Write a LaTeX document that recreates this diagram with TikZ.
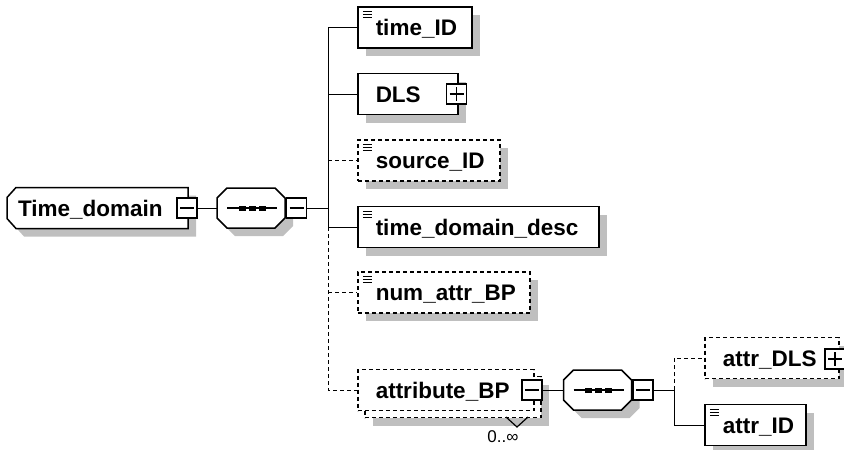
\documentclass[tikz,border=0pt]{standalone}
\usepackage{fontspec}
\setmainfont{Liberation Sans}
\usetikzlibrary{shadows}
\pgfdeclarelayer{bg}
\pgfsetlayers{bg,main}

\begin{document}
\begin{tikzpicture}[x=1pt, y=-1pt, line width=1.5pt,
	every node/.style={font=\bfseries\fontsize{22.5}{26}\selectfont},
	shd/.style={general shadow={fill=black!25, draw=none, shadow xshift=8pt, shadow yshift=-8pt}},
	box/.style={draw, fill=white, rectangle, minimum height=41pt, inner xsep=18pt, text height=16pt, text depth=0pt, align=left, anchor=west},
	elem/.style={box, shd},
	opt/.style={dash pattern=on 4pt off 3pt},
	outl/.style={draw, line width=1.5pt, fill=white, solid, shd},
	simple/.style={path picture={\foreach \k in {4.5,7.5,10.5} \draw[solid, line width=0.9pt] ([xshift=5pt,yshift=-\k pt]path picture bounding box.north west) -- ++(9pt,0pt);}},
	tog/.style={draw, fill=white, solid, rectangle, minimum size=20pt, inner sep=0pt, anchor=center},
	minus/.style={tog, path picture={\draw[solid, line width=1.2pt] ([xshift=3pt]path picture bounding box.west) -- ([xshift=-3pt]path picture bounding box.east);}},
	plus/.style={tog, path picture={\draw[solid, line width=1.2pt] ([xshift=3pt]path picture bounding box.west) -- ([xshift=-3pt]path picture bounding box.east);
		\draw[solid, line width=1.2pt] ([yshift=-3pt]path picture bounding box.north) -- ([yshift=3pt]path picture bounding box.south);}},
	seq/.style={rectangle, minimum width=68pt, minimum height=40pt, inner sep=0pt, outer sep=0pt,
		path picture={\draw[line width=1.6pt] ([xshift=-24pt]path picture bounding box.center) -- ++(50pt,0pt);
			\foreach \d in {-9,1,11} \fill[black] ([xshift=\d pt]path picture bounding box.center) ++(-3.5pt,-2.5pt) rectangle ++(7pt,5pt);}},
	glob/.style={rectangle, minimum width=181pt, minimum height=41pt, inner xsep=11pt, outer sep=0pt, text width=159pt, text height=16pt, text depth=0pt, align=left, anchor=west}]
	\useasboundingbox (0,0) rectangle (844,450);
	\node[glob] (tdom) at (7,208) {Time\_domain};
	\node[minus] (tdomMin) at (187,208) {};
	\node[seq] (seqA) at (251,208) {};
	\node[minus] (seqAMin) at (296.5,208) {};
	\coordinate (busA) at (328,208);
	\node[elem, simple, text width=78pt] (timeID) at (357,27.5) {time\_ID};
	\node[elem, text width=64pt] (dls) at (357,94) {DLS};
	\node[plus] (dlsPlus) at (456.5,94) {};
	\node[elem, opt, simple, text width=106pt] (sourceID) at (357,160.5) {source\_ID};
	\node[elem, simple, text width=205pt] (tdDesc) at (357,227) {time\_domain\_desc};
	\node[elem, opt, simple, text width=136pt] (numAttr) at (357,292.5) {num\_attr\_BP};
	\node[elem, opt, text width=140pt] (attrBPback) at (364,397) {};
	\node[box, opt, text width=140pt] (attrBP) at (357,390) {attribute\_BP};
	\node[minus] (attrBPMin) at (532,390) {};
	\node[font=\fontsize{17}{20}\selectfont] (attrBPOcc) at (503,437) {0..∞};
	\draw[line width=1.2pt] (506,417) -- (517,427) -- (528,417);
	\node[seq] (seqB) at (597.5,390) {};
	\node[minus] (seqBMin) at (643,390) {};
	\coordinate (busB) at (674,390);
	\node[elem, opt, text width=98pt] (attrDLS) at (704,358) {attr\_DLS};
	\node[plus] (attrDLSPlus) at (835,359) {};
	\node[elem, simple, text width=65pt] (attrID) at (704,425) {attr\_ID};
	\begin{pgfonlayer}{bg}
		\draw[outl] ([xshift=9pt]tdom.north west) -- (tdom.north east) -- (tdom.south east) -- ([xshift=9pt]tdom.south west)
			-- ([yshift=10pt]tdom.south west) -- ([yshift=-10pt]tdom.north west) -- cycle;
		\foreach \n in {seqA,seqB}
			\draw[outl] ([xshift=10pt]\n.north west) -- ([xshift=-10pt]\n.north east) -- ([yshift=-10pt]\n.north east)
				-- ([yshift=10pt]\n.south east) -- ([xshift=-10pt]\n.south east) -- ([xshift=10pt]\n.south west)
				-- ([yshift=10pt]\n.south west) -- ([yshift=-10pt]\n.north west) -- cycle;
	\end{pgfonlayer}
	\draw (tdomMin) -- (seqA);
	\draw (seqAMin) -- (busA);
	\draw (busA) |- (timeID.west);
	\draw (busA) |- (dls.west);
	\draw (busA) |- (tdDesc.west);
	\draw[opt] (busA |- sourceID.west) -- (sourceID.west);
	\draw[opt] (busA |- tdDesc.west) |- (attrBP.west);
	\draw[opt] (busA |- numAttr.west) -- (numAttr.west);
	\draw (attrBPMin) -- (seqB);
	\draw (seqBMin) -- (busB);
	\draw[opt] (busB) |- (attrDLS.west);
	\draw (busB) |- (attrID.west);
\end{tikzpicture}
\end{document}
